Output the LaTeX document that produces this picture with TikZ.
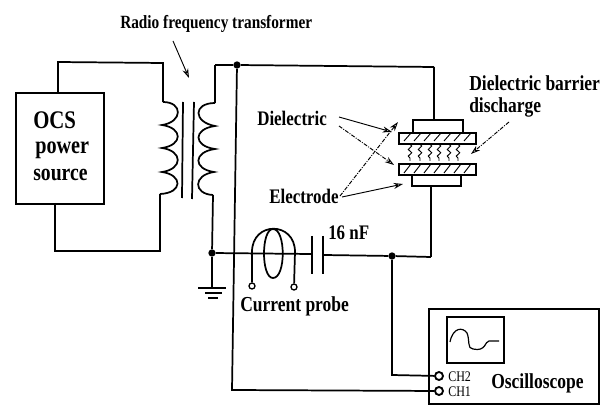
\documentclass[tikz,border=0pt]{standalone}
\usepackage{fontspec}
\setmainfont{Liberation Serif}[FakeStretch=0.82]
\usetikzlibrary{arrows.meta,decorations.pathmorphing}
\tikzset{
  x=0.75pt,y=-0.75pt,
  wire/.style={line width=1.3pt,line join=miter},
  box/.style={draw,line width=1.4pt,minimum width=0pt,inner sep=0pt,anchor=north west},
  lbl/.style={font=\bfseries,inner sep=0pt,text=black},
  dot/.style={circle,fill=black,inner sep=0pt,minimum size=5.5pt},
  term/.style={circle,draw,fill=white,line width=1pt,inner sep=0pt,minimum size=4.5pt},
  termb/.style={circle,draw,fill=white,line width=1.4pt,inner sep=0pt,minimum size=6pt},
  pointer/.style={line width=0.7pt,-{Stealth[open,length=7pt,width=4.5pt]}},
  dpointer/.style={pointer,densely dash dot},
  hatch/.style={line width=0.7pt},
}
\begin{document}
\begin{tikzpicture}
\useasboundingbox (0,0) rectangle (611,406);
% boxes
\node[box,minimum width=66pt,minimum height=83pt] (ocs) at (15,92) {};
\node[lbl,font=\bfseries\fontsize{19}{21}\selectfont,anchor=west] (ocst) at (33,120) {OCS};
\node[lbl,font=\bfseries\fontsize{18.5}{20}\selectfont,anchor=west] (pow) at (35,150) {power};
\node[lbl,font=\bfseries\fontsize{18}{20}\selectfont,anchor=west] (src) at (33,175) {source};
\node[box,minimum width=127.5pt,minimum height=71pt] (osc) at (428,308) {};
\node[box,minimum width=43pt,minimum height=34.5pt] (scr) at (446,316) {};
% top coordinates
\coordinate (a1) at (58,62);
\coordinate (a2) at (163,63);
\coordinate (p1) at (163,102);
\coordinate (p2) at (160,194);
\coordinate (b1) at (55,251);
\coordinate (b2) at (160,251);
\coordinate (ocsT) at (58,92);
\coordinate (ocsB) at (55,203);
\coordinate (s1) at (215,65);
\coordinate (s2) at (215,103);
\coordinate (s3) at (213,195);
\node[dot] (jt) at (237,65) {};
\node[dot] (jg) at (212,253) {};
\coordinate (tr) at (434,67);
\coordinate (el) at (232,390);
\node[termb] (ch1) at (439,391) {};
\node[termb] (ch2) at (439,376) {};
\node[dot] (jc) at (392,256) {};
% wires
\draw[wire] (ocsT) -- (a1) -- (a2) -- (p1);
\draw[wire] (ocsB) -- (b1) -- (b2) -- (p2);
\draw[wire] (s1) -- (s2);
\draw[wire] (s1) -- (jt) -- (tr);
\draw[wire] (s3) -- (jg);
\draw[wire] (jt) -- (el) -- (ch1);
% coils
\draw[wire] (p1) .. controls (183,102) and (183,122) .. (162,125)
  .. controls (183,128) and (183,145) .. (162,148)
  .. controls (183,151) and (183,169) .. (162,172)
  .. controls (183,175) and (183,193) .. (p2);
\draw[wire] (s2) .. controls (193,103) and (193,122) .. (215,126)
  .. controls (193,129) and (193,146) .. (215,149)
  .. controls (193,152) and (193,169) .. (214,172)
  .. controls (193,175) and (193,194) .. (s3);
% core
\coordinate (c1t) at (183,102);\coordinate (c1b) at (182,198);
\coordinate (c2t) at (194,102);\coordinate (c2b) at (192,199);
\draw[wire] (c1t) -- (c1b);
\draw[wire] (c2t) -- (c2b);
% ground
\coordinate (g0) at (212,287);
\draw[wire] (jg) -- (g0);
\draw[wire] (198,288) -- (226,288);
\draw[wire] (205,293) -- (222,293);
\draw[wire] (208,298) -- (218,298);
% capacitor and lead
\coordinate (cl) at (311,254);
\coordinate (cr) at (324,255);
\coordinate (br) at (431,257);
\draw[wire] (jg) -- (cl);
\draw[wire] (cr) -- (jc) -- (br);
\draw[wire] (312,236) -- (312,274);
\draw[wire] (323,236) -- (323,274);
% current probe
\node[term] (pl) at (252,286) {};
\node[term] (pr) at (294,287) {};
\draw[wire] (pl) -- (252,252) .. controls (252,221) and (295,221) .. (295,252) -- (pr);
\draw[wire] (273,229) .. controls (261,229) and (261,278) .. (273,278) .. controls (286,278) and (286,229) .. (273,229);
% DBD stack
\node[box,minimum width=37.5pt,minimum height=9.5pt] (et) at (412,119) {};
\node[box,minimum width=37pt,minimum height=8.5pt] (eb) at (411,174) {};
\node[box,minimum width=58pt,minimum height=8pt] (dt) at (398,132) {};
\node[box,minimum width=58pt,minimum height=8.5pt] (db) at (398,163) {};
\foreach \i in {404,414,424,434,444,454,464}{
  \draw[hatch] (\i,141) -- (\i+7,133);
  \draw[hatch] (\i,173) -- (\i+7,164);
}
\draw[wire] (tr) -- (et.north -| tr);
\draw[wire] (eb.south -| br) -- (br);
\foreach \i in {410,420,430,439,449,458}
  \draw[line width=0.7pt,decorate,decoration={snake,amplitude=1.3pt,segment length=5pt}] (\i,144) -- (\i,161);
% oscilloscope lead
\draw[wire] (jc) -- (392,375) -- (ch2);
\draw[line width=0.9pt] (450,342) .. controls (453,327) and (463,327) .. (467,333)
  .. controls (470,340) and (467,349) .. (473,349) .. controls (486,352) and (485,341) .. (489,341) -- (499,341);
% labels
\node[lbl,font=\bfseries\fontsize{14}{15}\selectfont,anchor=west] (rf) at (120,24) {Radio frequency transformer};
\coordinate (rfe) at (189,78);
\draw[pointer] (173,41) -- (rfe);
\node[lbl,font=\bfseries\fontsize{15.5}{16}\selectfont,anchor=west] (die) at (257,118) {Dielectric};
\node[lbl,font=\bfseries\fontsize{15.5}{16}\selectfont,anchor=west] (ele) at (269,196) {Electrode};
\draw[pointer] (339,117) -- (392,132);
\draw[dpointer] (339,126) -- (394,165);
\draw[dpointer] (340,196) -- (398,122);
\draw[pointer] (342,197) -- (403,184);
\node[lbl,font=\bfseries\fontsize{16}{15}\selectfont,anchor=west] (dbd) at (469,83) {Dielectric barrier};
\node[lbl,font=\bfseries\fontsize{16}{15}\selectfont,anchor=west] (dis) at (469,107) {discharge};
\draw[dpointer] (509,122) -- (471,154);
\node[lbl,font=\bfseries\fontsize{15.5}{16}\selectfont,anchor=west] (nf) at (328,233) {16 nF};
\node[lbl,font=\bfseries\fontsize{16}{15}\selectfont,anchor=west] (cp) at (240,306) {Current probe};
\node[lbl,font=\fontsize{11}{11}\selectfont,anchor=west] (c2l) at (448,377) {CH2};
\node[lbl,font=\fontsize{11}{11}\selectfont,anchor=west] (c1l) at (448,392) {CH1};
\node[lbl,font=\bfseries\fontsize{16}{16}\selectfont,anchor=west] (ost) at (491,383) {Oscilloscope};
\end{tikzpicture}
\end{document}
